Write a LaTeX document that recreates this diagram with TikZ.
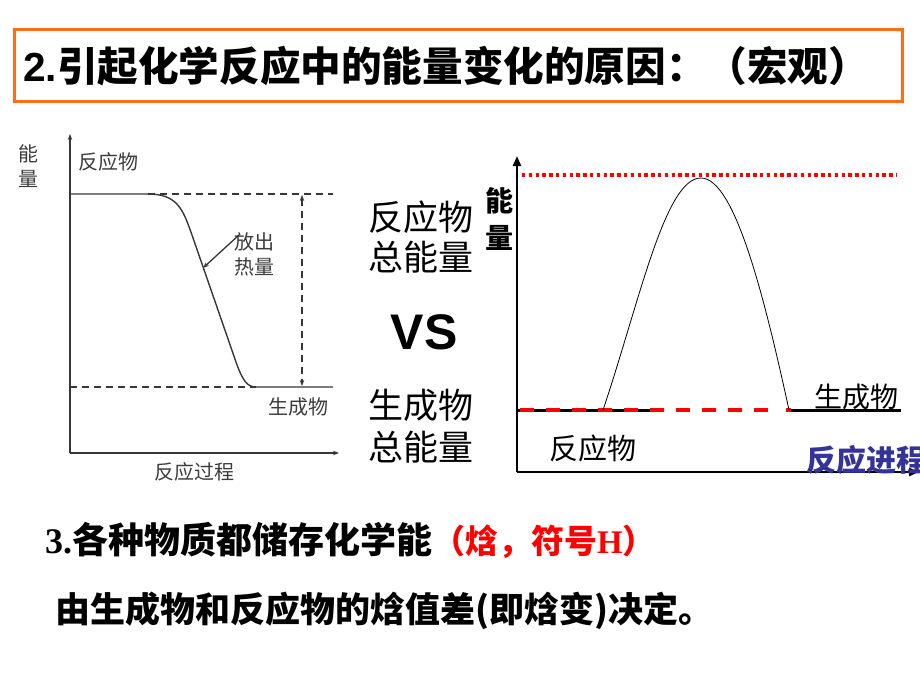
\documentclass[tikz,border=0pt]{standalone}
\usepackage{fontspec}
\setmainfont{Liberation Serif}
\newfontfamily\cjk{Noto Sans CJK SC}
\newfontfamily\arial{Liberation Sans}
\usetikzlibrary{arrows.meta}
\definecolor{boxorange}{RGB}{250,108,30}
\definecolor{procblue}{RGB}{51,51,153}
\definecolor{graphgray}{RGB}{55,55,55}
\definecolor{textgray}{RGB}{60,60,60}
\begin{document}
\begin{tikzpicture}[x=1pt,y=-1pt,
  lbl/.style={inner sep=0pt, outer sep=0pt, font={\fontsize{#1}{#1}\selectfont\cjk}},
  glbl/.style={lbl=#1, text=textgray},
  gline/.style={draw=graphgray, line width=1.4pt},
  gdash/.style={draw=graphgray, line width=1.6pt, dash pattern=on 7pt off 5pt},
  gaxis/.style={draw=graphgray, line width=1.3pt, -{Stealth[length=6pt,width=4.5pt]}},
  raxis/.style={draw=black, line width=2.6pt, -{Triangle[length=10pt,width=8pt]}},
]
\useasboundingbox (0,0) rectangle (920,690);
\clip (0,0) rectangle (920,690);

% ---------- title ----------
\node[draw=boxorange, line width=3pt, minimum width=888pt, minimum height=72pt, anchor=north west, inner sep=0pt] (titlebox) at (13,28) {};
\node[anchor=west, inner sep=0pt, font={\fontsize{40.6}{41}\selectfont}] (title) at (23,66)
  {{\arial\bfseries 2.}{\cjk\bfseries 引起化学反应中的能量变化的原因：（宏观）}};

% ---------- left graph ----------
\coordinate (lo) at (70,453);
\coordinate (ltop) at (70,134);
\coordinate (lright) at (339,453);
\draw[gaxis] (lo) -- (ltop);
\draw[gaxis] (lo) -- (lright);
\node[glbl=20, align=center, font={\fontsize{20}{25}\selectfont\cjk}] (lenergy) at (28,166) {能\\量};
\node[glbl=20] (lreact) at (108,162) {反应物};
\node[glbl=20] (lprod) at (298,407) {生成物};
\node[glbl=20] (lproc) at (194,472) {反应过程};
\node[glbl=20, align=center, font={\fontsize{20}{25}\selectfont\cjk}] (heat) at (254,254) {放出\\热量};

\coordinate (rs) at (70,194);
\coordinate (cs) at (148,194);
\coordinate (ce) at (256,387);
\coordinate (pe) at (333,387);
\draw[gline, line join=round] (rs) -- (cs)
  .. controls (178,194) and (183,210) .. (192,235)
  -- (236,362) .. controls (243,382) and (248,387) .. (ce) -- (pe);
\draw[gdash] (cs) -- (333,194);
\draw[gdash] (70,387) -- (ce);
\draw[gdash, {Stealth[length=6pt,width=4.5pt]}-{Stealth[length=6pt,width=4.5pt]}] (302,195) -- (302,386);
\coordinate (heattip) at (203,268);
\draw[draw=graphgray, line width=1.3pt, -{Stealth[length=6pt,width=4.5pt]}] (239,235) -- (heattip);

% ---------- middle labels ----------
\node[lbl=35] (rtot1) at (421,217) {反应物};
\node[lbl=35] (rtot2) at (421,257) {总能量};
\node[inner sep=0pt, font={\fontsize{50}{50}\selectfont\arial\bfseries}] (vs) at (424,332) {VS};
\node[lbl=35] (ptot1) at (421,405) {生成物};
\node[lbl=35] (ptot2) at (421,447) {总能量};

% ---------- right graph ----------
\coordinate (ro) at (517,472);
\coordinate (rtop) at (517,156);
\coordinate (rright) at (919,472);
\draw[raxis] (ro) -- (rtop);
\draw[raxis] (ro) -- (rright);
\node[inner sep=0pt, align=center, font={\fontsize{28}{37}\selectfont\cjk\bfseries}] (renergy) at (499,219) {能\\量};
\draw[red, line width=3.5pt, dash pattern=on 3.4pt off 3.4pt] (522,175) -- (897,175);
\coordinate (a0) at (517,410);
\coordinate (a1) at (655,410);
\coordinate (b0) at (603,410);
\coordinate (pk) at (701,178);
\coordinate (b1) at (789,410);
\coordinate (b2) at (901,410);
\draw[black, line width=3pt] (a0) -- (a1);
\draw[black, line width=3pt] (b1) -- (b2);
\draw[red, line width=4pt, dash pattern=on 14pt off 12pt] (520,410) -- (775,410);
\fill[red] (786,408) rectangle (791,412);
\draw[black, line width=0.8pt] (b0) .. controls (640,300) and (665,178) .. (pk)
  .. controls (735,178) and (765,300) .. (b1);
\node[lbl=28] (rprod) at (856,397) {生成物};
\node[lbl=29] (rreact) at (593,448) {反应物};
\node[anchor=west, inner sep=0pt, text=procblue, font={\fontsize{30}{30}\selectfont\cjk\bfseries}] (rproc) at (806,460) {反应进程};

% ---------- bottom text ----------
\node[anchor=west, inner sep=0pt, font={\fontsize{36}{36}\selectfont}] (line3) at (45,540)
  {{\bfseries 3.}{\cjk\bfseries 各种物质都储存化学能}\textcolor{red}{\fontsize{33}{33}\selectfont{\cjk\bfseries （焓，符号}{\bfseries H}{\cjk\bfseries ）}}};
\node[anchor=west, inner sep=0pt, font={\fontsize{35}{35}\selectfont\cjk\bfseries}] (line4) at (55,611)
  {由生成物和反应物的焓值差(即焓变)决定。};
\end{tikzpicture}
\end{document}
